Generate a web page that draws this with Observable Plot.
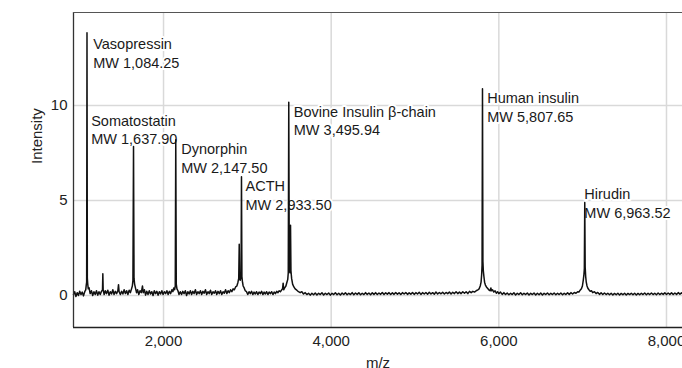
<!DOCTYPE html>
<html>
<head>
<meta charset="utf-8">
<script src="https://cdn.jsdelivr.net/npm/d3@7"></script>
<script src="https://cdn.jsdelivr.net/npm/@observablehq/plot@0.6"></script>
<style>
  html, body { margin: 0; padding: 0; background: white; }
</style>
</head>
<body>
<div id="chart"></div>
<script>
// ---- Data ----
const xTicks = [2000, 4000, 6000, 8000];
const yTicks = [0, 5, 10];
const xDomain = [926, 8191];
const yDomain = [-1.684, 14.895];

const peakNames = ["Vasopressin", "Somatostatin", "Dynorphin", "ACTH", "Bovine Insulin β-chain", "Human insulin", "Hirudin"];
const peakMW = ["MW 1,084.25", "MW 1,637.90", "MW 2,147.50", "MW 2,933.50", "MW 3,495.94", "MW 5,807.65", "MW 6,963.52"];
const labelMz = [1161, 1137, 2211, 2978, 3554, 5861, 7020];
const labelIntensity = [13.68, 9.65, 8.16, 6.19, 10.12, 10.83, 5.79];

// spectrum: [m/z, intensity]
const spectrum = [
[926,0.05],[940,0.2],[955,-0.05],[970,0.15],[985,0.0],[1000,0.22],[1015,0.05],[1030,0.18],[1045,-0.02],[1060,0.2],
[1072,0.3],[1078,0.55],[1083,0.7],[1087,13.83],[1091,0.9],[1096,0.6],[1102,0.35],[1112,0.4],[1125,0.1],[1140,0.25],
[1155,0.0],[1170,0.2],[1185,0.05],[1200,0.25],[1215,0.02],[1230,0.2],[1245,0.05],[1260,0.22],[1272,0.3],[1276,1.15],
[1280,0.3],[1292,0.05],[1305,0.25],[1320,0.1],[1335,0.28],[1350,0.02],[1365,0.2],[1380,0.08],[1395,0.3],[1410,0.05],
[1425,0.22],[1440,0.1],[1455,0.25],[1463,0.57],[1470,0.2],[1485,0.05],[1500,0.22],[1515,0.08],[1530,0.3],[1545,0.1],
[1560,0.25],[1575,0.05],[1590,0.28],[1605,0.15],[1618,0.35],[1628,0.5],[1635,0.8],[1642,7.84],[1648,0.9],[1655,0.6],
[1665,0.4],[1678,0.15],[1690,0.3],[1705,0.05],[1720,0.25],[1735,0.15],[1749,0.5],[1758,0.15],[1772,0.3],[1786,0.02],
[1800,0.22],[1815,0.05],[1830,0.25],[1845,0.08],[1860,0.2],[1875,0.0],[1890,0.25],[1905,0.1],[1920,0.22],[1935,0.02],
[1950,0.2],[1965,0.08],[1980,0.25],[1995,0.05],[2010,0.2],[2025,0.1],[2040,0.25],[2055,0.05],[2070,0.22],[2085,0.1],
[2100,0.3],[2112,0.2],[2122,0.4],[2132,0.3],[2140,0.5],[2146,8.2],[2152,0.6],[2160,0.35],[2172,0.25],[2185,0.05],
[2200,0.2],[2215,0.05],[2230,0.22],[2245,0.1],[2260,0.25],[2275,0.0],[2290,0.2],[2305,0.08],[2320,0.25],[2335,0.05],
[2350,0.22],[2365,0.1],[2380,0.3],[2395,0.05],[2410,0.2],[2425,0.1],[2440,0.25],[2455,0.05],[2470,0.22],[2485,0.12],
[2500,0.3],[2515,0.05],[2530,0.2],[2545,0.1],[2560,0.28],[2575,0.05],[2590,0.2],[2605,0.12],[2620,0.25],[2635,0.05],
[2650,0.22],[2665,0.1],[2680,0.25],[2695,0.05],[2710,0.2],[2725,0.12],[2740,0.3],[2755,0.1],[2770,0.25],[2785,0.15],
[2800,0.3],[2815,0.2],[2830,0.35],[2845,0.3],[2860,0.45],[2875,0.5],[2888,0.7],[2897,0.9],[2903,2.7],[2908,0.9],
[2915,0.8],[2925,1.0],[2930,6.25],[2935,1.0],[2942,0.7],[2950,0.5],[2962,0.4],[2975,0.25],[2990,0.2],[3005,0.05],
[3020,0.2],[3035,0.1],[3050,0.22],[3065,0.05],[3080,0.18],[3095,0.08],[3110,0.2],[3125,0.05],[3140,0.18],[3155,0.1],
[3170,0.22],[3185,0.05],[3200,0.18],[3215,0.08],[3230,0.2],[3245,0.05],[3260,0.18],[3275,0.1],[3290,0.2],[3305,0.05],
[3320,0.18],[3335,0.1],[3350,0.22],[3365,0.15],[3380,0.25],[3395,0.2],[3410,0.3],[3420,0.35],[3427,0.65],[3433,0.3],
[3445,0.4],[3460,0.5],[3472,0.7],[3482,0.85],[3488,1.2],[3494,10.17],[3500,1.5],[3507,1.2],[3515,3.7],[3520,1.3],
[3528,0.9],[3540,0.6],[3555,0.45],[3570,0.35],[3590,0.28],[3610,0.2],[3630,0.15],[3650,0.2],[3670,0.08],[3690,0.15],
[3710,0.05],[3730,0.12],[3750,0.02],[3770,0.12],[3790,0.04],[3810,0.13],[3830,0.03],[3850,0.12],[3870,0.05],[3890,0.14],
[3910,0.03],[3930,0.12],[3950,0.05],[3970,0.13],[3990,0.02],[4010,0.12],[4030,0.05],[4050,0.14],[4070,0.04],[4090,0.12],
[4110,0.03],[4130,0.13],[4150,0.05],[4170,0.14],[4190,0.04],[4210,0.12],[4230,0.05],[4250,0.15],[4270,0.04],[4290,0.13],
[4310,0.06],[4330,0.14],[4350,0.04],[4370,0.12],[4390,0.05],[4410,0.15],[4430,0.06],[4450,0.13],[4470,0.04],[4490,0.14],
[4510,0.06],[4530,0.15],[4550,0.05],[4570,0.13],[4590,0.06],[4610,0.16],[4630,0.05],[4650,0.14],[4670,0.07],[4690,0.15],
[4710,0.05],[4730,0.14],[4750,0.06],[4770,0.16],[4790,0.07],[4810,0.14],[4830,0.05],[4850,0.15],[4870,0.08],[4890,0.16],
[4910,0.06],[4930,0.14],[4950,0.07],[4970,0.16],[4990,0.06],[5010,0.15],[5030,0.08],[5050,0.17],[5070,0.06],[5090,0.15],
[5110,0.08],[5130,0.16],[5150,0.07],[5170,0.17],[5190,0.08],[5210,0.15],[5230,0.07],[5250,0.18],[5270,0.08],[5290,0.16],
[5310,0.09],[5330,0.17],[5350,0.08],[5370,0.16],[5390,0.1],[5410,0.18],[5430,0.08],[5450,0.17],[5470,0.1],[5490,0.2],
[5510,0.1],[5530,0.18],[5550,0.1],[5570,0.2],[5590,0.12],[5610,0.2],[5630,0.1],[5650,0.22],[5670,0.15],[5690,0.22],
[5710,0.18],[5730,0.25],[5750,0.3],[5765,0.35],[5778,0.5],[5788,0.7],[5795,1.1],[5800,1.6],[5805,10.88],[5810,1.8],
[5815,1.3],[5822,1.0],[5830,0.7],[5840,0.55],[5852,0.45],[5865,0.38],[5880,0.3],[5895,0.25],[5905,0.4],[5912,0.25],
[5925,0.3],[5940,0.18],[5955,0.25],[5970,0.12],[5985,0.2],[6000,0.1],[6020,0.18],[6040,0.06],[6060,0.15],[6080,0.05],
[6100,0.13],[6120,0.04],[6140,0.12],[6160,0.05],[6180,0.14],[6200,0.03],[6220,0.12],[6240,0.05],[6260,0.14],[6280,0.04],
[6300,0.12],[6320,0.05],[6340,0.13],[6360,0.03],[6380,0.12],[6400,0.05],[6420,0.13],[6440,0.03],[6460,0.12],[6480,0.04],
[6500,0.13],[6520,0.03],[6540,0.12],[6560,0.05],[6580,0.13],[6600,0.04],[6620,0.12],[6640,0.05],[6660,0.13],[6680,0.04],
[6700,0.12],[6720,0.05],[6740,0.13],[6760,0.04],[6780,0.12],[6800,0.05],[6820,0.14],[6840,0.06],[6860,0.15],[6880,0.08],
[6900,0.16],[6920,0.12],[6940,0.2],[6955,0.18],[6970,0.28],[6985,0.35],[6997,0.5],[7007,0.8],[7015,1.1],[7020,1.4],
[7025,4.9],[7030,1.5],[7036,1.0],[7043,0.7],[7052,0.5],[7062,0.38],[7075,0.3],[7090,0.22],[7105,0.25],[7120,0.15],
[7140,0.2],[7160,0.1],[7180,0.16],[7200,0.06],[7220,0.14],[7240,0.05],[7260,0.13],[7280,0.05],[7300,0.12],[7320,0.04],
[7340,0.12],[7360,0.03],[7380,0.11],[7400,0.04],[7420,0.12],[7440,0.03],[7460,0.11],[7480,0.04],[7500,0.12],[7520,0.03],
[7540,0.11],[7560,0.05],[7580,0.12],[7600,0.04],[7620,0.12],[7640,0.03],[7660,0.11],[7680,0.04],[7700,0.12],[7720,0.05],
[7740,0.13],[7760,0.04],[7780,0.12],[7800,0.05],[7820,0.13],[7840,0.05],[7860,0.12],[7880,0.04],[7900,0.13],[7920,0.05],
[7940,0.12],[7960,0.06],[7980,0.14],[8000,0.05],[8020,0.13],[8040,0.06],[8060,0.14],[8080,0.05],[8100,0.13],[8120,0.06],
[8140,0.15],[8160,0.07],[8180,0.14],[8191,0.1]
];

const labels = peakNames.map((name, i) => ({name, mw: peakMW[i], x: labelMz[i], y: labelIntensity[i]}));

const fontFamily = "'Liberation Sans', Arial, Helvetica, sans-serif";

const chart = Plot.plot({
  width: 682,
  height: 368,
  marginLeft: 73,
  marginRight: 0,
  marginTop: 12,
  marginBottom: 41,
  style: {fontFamily, fontSize: "14px", color: "#222", background: "white"},
  x: {domain: xDomain},
  y: {domain: yDomain},
  marks: [
    Plot.gridX(xTicks, {stroke: "#d9d9d9", strokeOpacity: 1, strokeWidth: 1.5}),
    Plot.gridY(yTicks, {stroke: "#d9d9d9", strokeOpacity: 1, strokeWidth: 1.5}),
    Plot.axisX({ticks: xTicks, tickSize: 0, tickPadding: 8, tickFormat: d3.format(","), label: null, fontSize: 15}),
    Plot.axisY({ticks: yTicks, tickSize: 0, tickPadding: 6, label: null, fontSize: 15}),
    Plot.text(labels, {
      x: "x", y: "y",
      text: d => d.name + "\n" + d.mw,
      textAnchor: "start", lineAnchor: "top", lineHeight: 1.3,
      fill: "#1a1a1a", stroke: "white", strokeWidth: 4, fontSize: 14.5
    }),
    Plot.line(spectrum, {x: d => d[0], y: d => d[1], stroke: "#111", strokeWidth: 1.5}),
    Plot.ruleX([xDomain[0]], {stroke: "#333", strokeWidth: 1.3}),
    Plot.ruleY([yDomain[0]], {stroke: "#222", strokeWidth: 1.3}),
    Plot.ruleY([yDomain[1]], {stroke: "#555", strokeWidth: 1.2}),
    Plot.text(["m/z"], {frameAnchor: "bottom", lineAnchor: "top", dy: 30, fontSize: 15, fill: "#222"}),
    Plot.text(["Intensity"], {frameAnchor: "left", rotate: -90, dx: -36, dy: -6, fontSize: 15, fill: "#222"})
  ]
});

document.getElementById("chart").appendChild(chart);
</script>
</body>
</html>
